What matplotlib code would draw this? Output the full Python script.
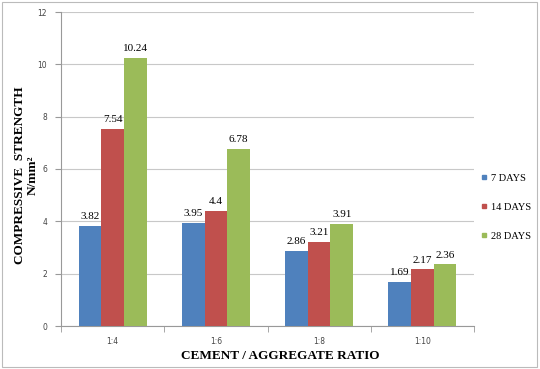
import numpy as np
import matplotlib
matplotlib.use("Agg")
import matplotlib.pyplot as plt
from matplotlib.patches import Rectangle
from matplotlib.lines import Line2D

# Compressive strength per cement/aggregate ratio and curing age
ratios = ["1:4", "1:6", "1:8", "1:10"]
days_7 = [3.82, 3.95, 2.86, 1.69]
days_14 = [7.54, 4.4, 3.21, 2.17]
days_28 = [10.24, 6.78, 3.91, 2.36]
series_names = ["7 DAYS", "14 DAYS", "28 DAYS"]
colors = ["#4F81BD", "#C0504D", "#9BBB59"]

serif = "Liberation Serif"

fig = plt.figure(figsize=(5.4, 3.69), dpi=100)
ax = fig.add_axes([61 / 540, 1 - 326 / 369, 413 / 540, 314 / 369])

x = np.arange(len(ratios))
width = 0.22
for i, (vals, color) in enumerate(zip([days_7, days_14, days_28], colors)):
    pos = x + (i - 1) * width
    ax.bar(pos, vals, width, color=color, zorder=3)
    for p, v in zip(pos, vals):
        ax.text(p, v + 0.18, f"{v:g}", ha="center", va="bottom",
                fontsize=8, family=serif, zorder=4)

ax.set_xlim(-0.5, len(ratios) - 0.5)
ax.set_ylim(0, 12)
ax.set_yticks(np.arange(0, 13, 2))
ax.grid(axis="y", color="#c8c8c8", linewidth=0.8, zorder=0)

# category labels centred, tick marks between groups
ax.set_xticks(x)
ax.set_xticklabels(ratios, fontsize=5.5, color="#444444")
ax.tick_params(axis="x", length=0, pad=8)
ax.set_xticks(np.arange(-0.5, len(ratios), 1), minor=True)
ax.tick_params(axis="x", which="minor", length=4, color="#999999", direction="out")
ax.tick_params(axis="y", labelsize=5.5, labelcolor="#444444", length=4,
               color="#999999", pad=6)

for side in ["top", "right"]:
    ax.spines[side].set_visible(False)
for side in ["left", "bottom"]:
    ax.spines[side].set_color("#999999")
    ax.spines[side].set_linewidth(0.8)

fig.text(280 / 540, 1 - 356 / 369, "CEMENT / AGGREGATE RATIO", ha="center",
         va="center", fontsize=9.5, fontweight="bold", family=serif)
fig.text(20 / 540, 1 - 175 / 369, "COMPRESSIVE  STRENGTH", ha="center",
         va="center", rotation=90, fontsize=9.5, fontweight="bold", family=serif)
fig.text(33 / 540, 1 - 175 / 369, "N/mm\u00b2", ha="center",
         va="center", rotation=90, fontsize=9.5, fontweight="bold", family=serif)

handles = [Line2D([], [], marker="s", linestyle="", markersize=3.5,
                  markerfacecolor=c, markeredgecolor=c) for c in colors]
fig.legend(handles, series_names, loc="center left",
           bbox_to_anchor=(472 / 540, 1 - 207 / 369), frameon=False,
           prop={"family": serif, "size": 7.5}, handletextpad=0.1,
           labelspacing=1.9, handlelength=1.0, borderpad=0.2)

# thin frame around the whole chart
fig.patches.append(Rectangle((2 / 540, 2 / 369), 535 / 540, 365 / 369,
                             transform=fig.transFigure, fill=False,
                             edgecolor="#bbbbbb", linewidth=0.8))

fig.savefig("out.png", dpi=100)
